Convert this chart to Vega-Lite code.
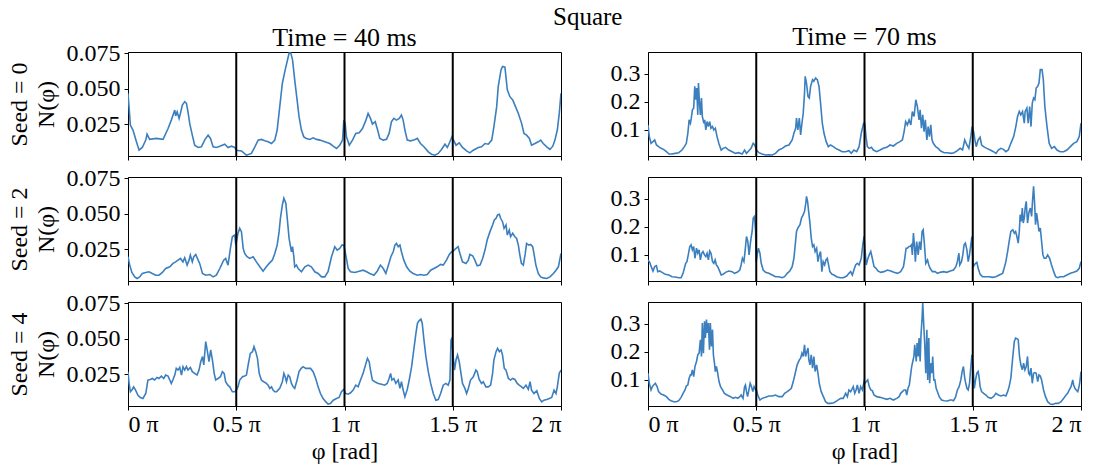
{
  "$schema": "https://vega.github.io/schema/vega-lite/v6.json",
  "autosize": {"type": "none"},
  "padding": {"left": 128, "top": 52, "right": 970, "bottom": 416},
  "background": "white",
  "title": {"text": "Square", "anchor": "start", "frame": "group", "dx": 425, "fontSize": 25, "fontWeight": "normal", "font": "Liberation Serif", "color": "#000", "offset": -6},
  "config": {
    "font": "Liberation Serif",
    "view": {"stroke": "#000", "strokeWidth": 1},
    "axis": {"labelFont": "Liberation Serif", "titleFont": "Liberation Serif", "labelFontSize": 24, "titleFontSize": 24, "labelColor": "#000", "titleColor": "#000", "tickColor": "#000", "domainColor": "#000", "grid": false, "tickSize": 4, "labelPadding": 4, "titleFontWeight": "normal", "labelOverlap": false},
    "title": {"fontWeight": "normal", "fontSize": 26, "font": "Liberation Serif", "color": "#000"}
  },
  "datasets": {
    "guides": [{"phi": 0.5}, {"phi": 1}, {"phi": 1.5}],
    "t40s0": [
      {"phi":0.000,"N":0.0467},{"phi":0.011,"N":0.0243},{"phi":0.023,"N":0.0208},{"phi":0.039,"N":0.0125},{"phi":0.051,"N":0.0066},{"phi":0.066,"N":0.0085},{"phi":0.082,"N":0.0137},{"phi":0.088,"N":0.0179},{"phi":0.100,"N":0.0142},{"phi":0.131,"N":0.0149},{"phi":0.162,"N":0.0142},{"phi":0.185,"N":0.0219},{"phi":0.200,"N":0.0278},{"phi":0.216,"N":0.0349},{"phi":0.220,"N":0.0307},{"phi":0.227,"N":0.0337},{"phi":0.236,"N":0.0290},{"phi":0.242,"N":0.0325},{"phi":0.251,"N":0.0384},{"phi":0.262,"N":0.0408},{"phi":0.270,"N":0.0396},{"phi":0.277,"N":0.0337},{"phi":0.285,"N":0.0255},{"phi":0.297,"N":0.0172},{"phi":0.308,"N":0.0101},{"phi":0.324,"N":0.0085},{"phi":0.339,"N":0.0090},{"phi":0.354,"N":0.0137},{"phi":0.370,"N":0.0172},{"phi":0.381,"N":0.0149},{"phi":0.393,"N":0.0090},{"phi":0.408,"N":0.0085},{"phi":0.424,"N":0.0094},{"phi":0.447,"N":0.0108},{"phi":0.462,"N":0.0085},{"phi":0.478,"N":0.0094},{"phi":0.493,"N":0.0085},{"phi":0.501,"N":0.0066},{"phi":0.524,"N":0.0061},{"phi":0.547,"N":0.0031},{"phi":0.570,"N":0.0043},{"phi":0.586,"N":0.0090},{"phi":0.601,"N":0.0137},{"phi":0.616,"N":0.0142},{"phi":0.632,"N":0.0132},{"phi":0.647,"N":0.0125},{"phi":0.663,"N":0.0113},{"phi":0.678,"N":0.0137},{"phi":0.689,"N":0.0208},{"phi":0.701,"N":0.0373},{"phi":0.713,"N":0.0538},{"phi":0.726,"N":0.0632},{"phi":0.737,"N":0.0703},{"phi":0.744,"N":0.0750},{"phi":0.752,"N":0.0750},{"phi":0.760,"N":0.0703},{"phi":0.770,"N":0.0561},{"phi":0.781,"N":0.0420},{"phi":0.790,"N":0.0302},{"phi":0.801,"N":0.0208},{"phi":0.812,"N":0.0160},{"phi":0.824,"N":0.0149},{"phi":0.840,"N":0.0142},{"phi":0.855,"N":0.0153},{"phi":0.871,"N":0.0142},{"phi":0.886,"N":0.0137},{"phi":0.909,"N":0.0125},{"phi":0.932,"N":0.0113},{"phi":0.948,"N":0.0094},{"phi":0.963,"N":0.0078},{"phi":0.978,"N":0.0101},{"phi":0.991,"N":0.0137},{"phi":0.997,"N":0.0278},{"phi":1.003,"N":0.0255},{"phi":1.009,"N":0.0160},{"phi":1.022,"N":0.0101},{"phi":1.037,"N":0.0137},{"phi":1.052,"N":0.0184},{"phi":1.068,"N":0.0189},{"phi":1.083,"N":0.0219},{"phi":1.099,"N":0.0278},{"phi":1.109,"N":0.0325},{"phi":1.120,"N":0.0290},{"phi":1.129,"N":0.0250},{"phi":1.142,"N":0.0267},{"phi":1.153,"N":0.0208},{"phi":1.163,"N":0.0149},{"phi":1.179,"N":0.0137},{"phi":1.194,"N":0.0142},{"phi":1.206,"N":0.0184},{"phi":1.217,"N":0.0267},{"phi":1.228,"N":0.0290},{"phi":1.240,"N":0.0278},{"phi":1.253,"N":0.0290},{"phi":1.263,"N":0.0314},{"phi":1.271,"N":0.0278},{"phi":1.279,"N":0.0208},{"phi":1.290,"N":0.0137},{"phi":1.305,"N":0.0132},{"phi":1.320,"N":0.0137},{"phi":1.336,"N":0.0149},{"phi":1.351,"N":0.0113},{"phi":1.367,"N":0.0090},{"phi":1.387,"N":0.0054},{"phi":1.402,"N":0.0038},{"phi":1.418,"N":0.0031},{"phi":1.433,"N":0.0043},{"phi":1.448,"N":0.0071},{"phi":1.464,"N":0.0108},{"phi":1.475,"N":0.0085},{"phi":1.487,"N":0.0125},{"phi":1.496,"N":0.0160},{"phi":1.502,"N":0.0142},{"phi":1.515,"N":0.0101},{"phi":1.530,"N":0.0118},{"phi":1.545,"N":0.0085},{"phi":1.564,"N":0.0061},{"phi":1.579,"N":0.0047},{"phi":1.595,"N":0.0066},{"phi":1.618,"N":0.0085},{"phi":1.633,"N":0.0090},{"phi":1.649,"N":0.0113},{"phi":1.664,"N":0.0108},{"phi":1.680,"N":0.0137},{"phi":1.690,"N":0.0231},{"phi":1.703,"N":0.0373},{"phi":1.710,"N":0.0514},{"phi":1.723,"N":0.0632},{"phi":1.730,"N":0.0656},{"phi":1.741,"N":0.0651},{"phi":1.752,"N":0.0491},{"phi":1.764,"N":0.0443},{"phi":1.777,"N":0.0420},{"phi":1.787,"N":0.0384},{"phi":1.803,"N":0.0325},{"phi":1.818,"N":0.0255},{"phi":1.829,"N":0.0184},{"phi":1.841,"N":0.0172},{"phi":1.854,"N":0.0149},{"phi":1.864,"N":0.0101},{"phi":1.880,"N":0.0113},{"phi":1.895,"N":0.0125},{"phi":1.906,"N":0.0137},{"phi":1.918,"N":0.0113},{"phi":1.934,"N":0.0090},{"phi":1.949,"N":0.0071},{"phi":1.962,"N":0.0094},{"phi":1.972,"N":0.0137},{"phi":1.983,"N":0.0208},{"phi":1.992,"N":0.0325},{"phi":2.000,"N":0.0467}
    ],
    "t40s2": [
      {"phi":0.000,"N":0.0196},{"phi":0.008,"N":0.0137},{"phi":0.018,"N":0.0085},{"phi":0.031,"N":0.0054},{"phi":0.042,"N":0.0043},{"phi":0.054,"N":0.0054},{"phi":0.066,"N":0.0078},{"phi":0.082,"N":0.0085},{"phi":0.097,"N":0.0090},{"phi":0.112,"N":0.0078},{"phi":0.128,"N":0.0066},{"phi":0.143,"N":0.0066},{"phi":0.159,"N":0.0085},{"phi":0.174,"N":0.0113},{"phi":0.193,"N":0.0125},{"phi":0.208,"N":0.0149},{"phi":0.220,"N":0.0160},{"phi":0.231,"N":0.0172},{"phi":0.242,"N":0.0184},{"phi":0.254,"N":0.0160},{"phi":0.262,"N":0.0189},{"phi":0.273,"N":0.0137},{"phi":0.282,"N":0.0172},{"phi":0.288,"N":0.0208},{"phi":0.297,"N":0.0160},{"phi":0.304,"N":0.0196},{"phi":0.313,"N":0.0212},{"phi":0.324,"N":0.0172},{"phi":0.331,"N":0.0149},{"phi":0.344,"N":0.0078},{"phi":0.359,"N":0.0066},{"phi":0.378,"N":0.0071},{"phi":0.393,"N":0.0054},{"phi":0.408,"N":0.0066},{"phi":0.424,"N":0.0113},{"phi":0.442,"N":0.0172},{"phi":0.451,"N":0.0184},{"phi":0.462,"N":0.0137},{"phi":0.473,"N":0.0255},{"phi":0.482,"N":0.0337},{"phi":0.493,"N":0.0349},{"phi":0.498,"N":0.0278},{"phi":0.508,"N":0.0361},{"phi":0.516,"N":0.0396},{"phi":0.524,"N":0.0373},{"phi":0.532,"N":0.0255},{"phi":0.539,"N":0.0219},{"phi":0.550,"N":0.0196},{"phi":0.562,"N":0.0184},{"phi":0.578,"N":0.0196},{"phi":0.593,"N":0.0160},{"phi":0.609,"N":0.0125},{"phi":0.624,"N":0.0094},{"phi":0.639,"N":0.0125},{"phi":0.652,"N":0.0149},{"phi":0.667,"N":0.0172},{"phi":0.678,"N":0.0219},{"phi":0.689,"N":0.0278},{"phi":0.698,"N":0.0373},{"phi":0.704,"N":0.0467},{"phi":0.713,"N":0.0561},{"phi":0.720,"N":0.0608},{"phi":0.729,"N":0.0573},{"phi":0.737,"N":0.0443},{"phi":0.744,"N":0.0325},{"phi":0.755,"N":0.0231},{"phi":0.760,"N":0.0267},{"phi":0.766,"N":0.0196},{"phi":0.770,"N":0.0125},{"phi":0.778,"N":0.0137},{"phi":0.786,"N":0.0113},{"phi":0.801,"N":0.0090},{"phi":0.817,"N":0.0125},{"phi":0.832,"N":0.0137},{"phi":0.847,"N":0.0125},{"phi":0.863,"N":0.0090},{"phi":0.878,"N":0.0078},{"phi":0.894,"N":0.0054},{"phi":0.909,"N":0.0054},{"phi":0.924,"N":0.0090},{"phi":0.940,"N":0.0196},{"phi":0.955,"N":0.0267},{"phi":0.966,"N":0.0243},{"phi":0.978,"N":0.0255},{"phi":0.988,"N":0.0278},{"phi":0.997,"N":0.0278},{"phi":1.006,"N":0.0208},{"phi":1.017,"N":0.0113},{"phi":1.028,"N":0.0090},{"phi":1.048,"N":0.0085},{"phi":1.068,"N":0.0094},{"phi":1.086,"N":0.0101},{"phi":1.102,"N":0.0090},{"phi":1.117,"N":0.0078},{"phi":1.136,"N":0.0066},{"phi":1.151,"N":0.0094},{"phi":1.166,"N":0.0137},{"phi":1.179,"N":0.0113},{"phi":1.191,"N":0.0078},{"phi":1.203,"N":0.0137},{"phi":1.214,"N":0.0196},{"phi":1.225,"N":0.0231},{"phi":1.233,"N":0.0278},{"phi":1.240,"N":0.0290},{"phi":1.248,"N":0.0267},{"phi":1.256,"N":0.0278},{"phi":1.263,"N":0.0231},{"phi":1.274,"N":0.0172},{"phi":1.287,"N":0.0125},{"phi":1.302,"N":0.0094},{"phi":1.317,"N":0.0078},{"phi":1.336,"N":0.0066},{"phi":1.351,"N":0.0071},{"phi":1.367,"N":0.0066},{"phi":1.382,"N":0.0071},{"phi":1.398,"N":0.0101},{"phi":1.413,"N":0.0113},{"phi":1.428,"N":0.0125},{"phi":1.444,"N":0.0142},{"phi":1.456,"N":0.0137},{"phi":1.471,"N":0.0172},{"phi":1.484,"N":0.0212},{"phi":1.495,"N":0.0231},{"phi":1.502,"N":0.0236},{"phi":1.515,"N":0.0255},{"phi":1.525,"N":0.0267},{"phi":1.533,"N":0.0219},{"phi":1.545,"N":0.0160},{"phi":1.561,"N":0.0149},{"phi":1.572,"N":0.0172},{"phi":1.579,"N":0.0212},{"phi":1.592,"N":0.0203},{"phi":1.602,"N":0.0172},{"phi":1.613,"N":0.0132},{"phi":1.626,"N":0.0137},{"phi":1.638,"N":0.0184},{"phi":1.649,"N":0.0243},{"phi":1.659,"N":0.0314},{"phi":1.672,"N":0.0373},{"phi":1.684,"N":0.0420},{"phi":1.692,"N":0.0455},{"phi":1.700,"N":0.0467},{"phi":1.707,"N":0.0491},{"phi":1.715,"N":0.0495},{"phi":1.721,"N":0.0467},{"phi":1.730,"N":0.0443},{"phi":1.737,"N":0.0396},{"phi":1.746,"N":0.0420},{"phi":1.752,"N":0.0349},{"phi":1.761,"N":0.0384},{"phi":1.767,"N":0.0337},{"phi":1.777,"N":0.0361},{"phi":1.787,"N":0.0337},{"phi":1.795,"N":0.0325},{"phi":1.803,"N":0.0278},{"phi":1.810,"N":0.0208},{"phi":1.817,"N":0.0149},{"phi":1.826,"N":0.0137},{"phi":1.835,"N":0.0219},{"phi":1.841,"N":0.0290},{"phi":1.851,"N":0.0278},{"phi":1.860,"N":0.0283},{"phi":1.869,"N":0.0267},{"phi":1.875,"N":0.0219},{"phi":1.884,"N":0.0137},{"phi":1.895,"N":0.0078},{"phi":1.906,"N":0.0054},{"phi":1.918,"N":0.0047},{"phi":1.934,"N":0.0043},{"phi":1.949,"N":0.0054},{"phi":1.965,"N":0.0078},{"phi":1.977,"N":0.0101},{"phi":1.988,"N":0.0125},{"phi":2.000,"N":0.0219}
    ],
    "t40s4": [
      {"phi":0.000,"N":0.0267},{"phi":0.005,"N":0.0184},{"phi":0.011,"N":0.0125},{"phi":0.018,"N":0.0137},{"phi":0.026,"N":0.0160},{"phi":0.035,"N":0.0137},{"phi":0.046,"N":0.0101},{"phi":0.057,"N":0.0085},{"phi":0.069,"N":0.0078},{"phi":0.082,"N":0.0113},{"phi":0.092,"N":0.0208},{"phi":0.103,"N":0.0212},{"phi":0.112,"N":0.0219},{"phi":0.123,"N":0.0208},{"phi":0.134,"N":0.0226},{"phi":0.143,"N":0.0219},{"phi":0.154,"N":0.0236},{"phi":0.165,"N":0.0219},{"phi":0.174,"N":0.0243},{"phi":0.185,"N":0.0236},{"phi":0.193,"N":0.0208},{"phi":0.200,"N":0.0184},{"phi":0.208,"N":0.0212},{"phi":0.216,"N":0.0243},{"phi":0.223,"N":0.0290},{"phi":0.231,"N":0.0278},{"phi":0.239,"N":0.0297},{"phi":0.247,"N":0.0243},{"phi":0.254,"N":0.0302},{"phi":0.262,"N":0.0278},{"phi":0.270,"N":0.0302},{"phi":0.277,"N":0.0278},{"phi":0.288,"N":0.0297},{"phi":0.297,"N":0.0267},{"phi":0.308,"N":0.0255},{"phi":0.319,"N":0.0243},{"phi":0.328,"N":0.0278},{"phi":0.336,"N":0.0337},{"phi":0.344,"N":0.0373},{"phi":0.350,"N":0.0314},{"phi":0.359,"N":0.0479},{"phi":0.367,"N":0.0408},{"phi":0.374,"N":0.0337},{"phi":0.382,"N":0.0420},{"phi":0.390,"N":0.0349},{"phi":0.398,"N":0.0255},{"phi":0.405,"N":0.0208},{"phi":0.416,"N":0.0219},{"phi":0.427,"N":0.0231},{"phi":0.436,"N":0.0267},{"phi":0.444,"N":0.0255},{"phi":0.451,"N":0.0196},{"phi":0.461,"N":0.0172},{"phi":0.470,"N":0.0160},{"phi":0.482,"N":0.0125},{"phi":0.493,"N":0.0125},{"phi":0.501,"N":0.0137},{"phi":0.508,"N":0.0160},{"phi":0.516,"N":0.0208},{"phi":0.529,"N":0.0231},{"phi":0.539,"N":0.0236},{"phi":0.547,"N":0.0243},{"phi":0.555,"N":0.0314},{"phi":0.565,"N":0.0396},{"phi":0.575,"N":0.0408},{"phi":0.582,"N":0.0443},{"phi":0.590,"N":0.0408},{"phi":0.598,"N":0.0361},{"phi":0.606,"N":0.0255},{"phi":0.616,"N":0.0208},{"phi":0.627,"N":0.0196},{"phi":0.639,"N":0.0184},{"phi":0.647,"N":0.0172},{"phi":0.655,"N":0.0149},{"phi":0.663,"N":0.0160},{"phi":0.670,"N":0.0137},{"phi":0.678,"N":0.0125},{"phi":0.686,"N":0.0125},{"phi":0.693,"N":0.0137},{"phi":0.701,"N":0.0149},{"phi":0.713,"N":0.0196},{"phi":0.720,"N":0.0255},{"phi":0.726,"N":0.0231},{"phi":0.732,"N":0.0196},{"phi":0.740,"N":0.0243},{"phi":0.747,"N":0.0231},{"phi":0.755,"N":0.0184},{"phi":0.763,"N":0.0160},{"phi":0.770,"N":0.0149},{"phi":0.781,"N":0.0208},{"phi":0.790,"N":0.0267},{"phi":0.800,"N":0.0290},{"phi":0.809,"N":0.0302},{"phi":0.821,"N":0.0290},{"phi":0.832,"N":0.0290},{"phi":0.843,"N":0.0290},{"phi":0.855,"N":0.0267},{"phi":0.867,"N":0.0219},{"phi":0.878,"N":0.0160},{"phi":0.889,"N":0.0113},{"phi":0.901,"N":0.0078},{"phi":0.914,"N":0.0054},{"phi":0.924,"N":0.0038},{"phi":0.935,"N":0.0043},{"phi":0.948,"N":0.0066},{"phi":0.963,"N":0.0078},{"phi":0.975,"N":0.0085},{"phi":0.986,"N":0.0125},{"phi":0.997,"N":0.0142},{"phi":1.006,"N":0.0113},{"phi":1.017,"N":0.0108},{"phi":1.028,"N":0.0118},{"phi":1.040,"N":0.0137},{"phi":1.052,"N":0.0172},{"phi":1.063,"N":0.0160},{"phi":1.074,"N":0.0208},{"phi":1.086,"N":0.0255},{"phi":1.097,"N":0.0314},{"phi":1.106,"N":0.0361},{"phi":1.114,"N":0.0337},{"phi":1.120,"N":0.0278},{"phi":1.129,"N":0.0208},{"phi":1.140,"N":0.0196},{"phi":1.156,"N":0.0184},{"phi":1.171,"N":0.0179},{"phi":1.186,"N":0.0172},{"phi":1.197,"N":0.0184},{"phi":1.206,"N":0.0219},{"phi":1.213,"N":0.0255},{"phi":1.219,"N":0.0208},{"phi":1.228,"N":0.0219},{"phi":1.237,"N":0.0184},{"phi":1.248,"N":0.0208},{"phi":1.256,"N":0.0149},{"phi":1.263,"N":0.0196},{"phi":1.271,"N":0.0137},{"phi":1.279,"N":0.0090},{"phi":1.290,"N":0.0142},{"phi":1.299,"N":0.0208},{"phi":1.310,"N":0.0302},{"phi":1.320,"N":0.0420},{"phi":1.330,"N":0.0538},{"phi":1.337,"N":0.0608},{"phi":1.345,"N":0.0627},{"phi":1.353,"N":0.0637},{"phi":1.359,"N":0.0608},{"phi":1.367,"N":0.0491},{"phi":1.376,"N":0.0373},{"phi":1.387,"N":0.0267},{"phi":1.398,"N":0.0184},{"phi":1.410,"N":0.0113},{"phi":1.422,"N":0.0066},{"phi":1.433,"N":0.0071},{"phi":1.444,"N":0.0113},{"phi":1.456,"N":0.0172},{"phi":1.468,"N":0.0184},{"phi":1.479,"N":0.0172},{"phi":1.487,"N":0.0208},{"phi":1.492,"N":0.0491},{"phi":1.496,"N":0.0502},{"phi":1.502,"N":0.0373},{"phi":1.508,"N":0.0278},{"phi":1.515,"N":0.0349},{"phi":1.522,"N":0.0384},{"phi":1.530,"N":0.0337},{"phi":1.538,"N":0.0255},{"phi":1.545,"N":0.0184},{"phi":1.556,"N":0.0149},{"phi":1.564,"N":0.0113},{"phi":1.572,"N":0.0149},{"phi":1.582,"N":0.0208},{"phi":1.595,"N":0.0231},{"phi":1.607,"N":0.0278},{"phi":1.613,"N":0.0267},{"phi":1.622,"N":0.0212},{"phi":1.633,"N":0.0184},{"phi":1.641,"N":0.0196},{"phi":1.653,"N":0.0160},{"phi":1.664,"N":0.0160},{"phi":1.675,"N":0.0172},{"phi":1.684,"N":0.0255},{"phi":1.690,"N":0.0349},{"phi":1.700,"N":0.0408},{"phi":1.707,"N":0.0432},{"phi":1.715,"N":0.0408},{"phi":1.723,"N":0.0420},{"phi":1.730,"N":0.0384},{"phi":1.738,"N":0.0290},{"phi":1.746,"N":0.0278},{"phi":1.757,"N":0.0219},{"phi":1.767,"N":0.0208},{"phi":1.777,"N":0.0219},{"phi":1.787,"N":0.0212},{"phi":1.798,"N":0.0184},{"phi":1.807,"N":0.0172},{"phi":1.818,"N":0.0160},{"phi":1.826,"N":0.0149},{"phi":1.838,"N":0.0172},{"phi":1.849,"N":0.0142},{"phi":1.857,"N":0.0196},{"phi":1.864,"N":0.0137},{"phi":1.875,"N":0.0113},{"phi":1.888,"N":0.0132},{"phi":1.900,"N":0.0078},{"phi":1.911,"N":0.0054},{"phi":1.921,"N":0.0066},{"phi":1.934,"N":0.0071},{"phi":1.946,"N":0.0078},{"phi":1.957,"N":0.0085},{"phi":1.968,"N":0.0137},{"phi":1.977,"N":0.0113},{"phi":1.983,"N":0.0160},{"phi":1.992,"N":0.0255},{"phi":2.000,"N":0.0278}
    ],
    "t70s0": [
      {"phi":0.000,"N":0.1169},{"phi":0.006,"N":0.0747},{"phi":0.014,"N":0.0506},{"phi":0.023,"N":0.0566},{"phi":0.031,"N":0.0627},{"phi":0.039,"N":0.0446},{"phi":0.049,"N":0.0386},{"phi":0.060,"N":0.0325},{"phi":0.072,"N":0.0289},{"phi":0.085,"N":0.0205},{"phi":0.097,"N":0.0120},{"phi":0.111,"N":0.0120},{"phi":0.126,"N":0.0145},{"phi":0.142,"N":0.0169},{"phi":0.157,"N":0.0265},{"phi":0.168,"N":0.0386},{"phi":0.177,"N":0.0506},{"phi":0.184,"N":0.0867},{"phi":0.190,"N":0.1349},{"phi":0.196,"N":0.1229},{"phi":0.200,"N":0.1410},{"phi":0.205,"N":0.1711},{"phi":0.211,"N":0.1771},{"phi":0.216,"N":0.2554},{"phi":0.221,"N":0.2072},{"phi":0.225,"N":0.2494},{"phi":0.230,"N":0.1530},{"phi":0.233,"N":0.2675},{"phi":0.237,"N":0.2072},{"phi":0.242,"N":0.1530},{"phi":0.247,"N":0.2133},{"phi":0.251,"N":0.1470},{"phi":0.258,"N":0.1229},{"phi":0.262,"N":0.1349},{"phi":0.267,"N":0.0988},{"phi":0.273,"N":0.1289},{"phi":0.279,"N":0.1108},{"phi":0.285,"N":0.1289},{"phi":0.291,"N":0.1048},{"phi":0.298,"N":0.1108},{"phi":0.304,"N":0.0988},{"phi":0.311,"N":0.1048},{"phi":0.319,"N":0.0747},{"phi":0.327,"N":0.0506},{"phi":0.338,"N":0.0265},{"phi":0.347,"N":0.0325},{"phi":0.358,"N":0.0361},{"phi":0.373,"N":0.0265},{"phi":0.389,"N":0.0205},{"phi":0.404,"N":0.0145},{"phi":0.419,"N":0.0169},{"phi":0.435,"N":0.0120},{"phi":0.446,"N":0.0265},{"phi":0.455,"N":0.0145},{"phi":0.466,"N":0.0241},{"phi":0.476,"N":0.0325},{"phi":0.486,"N":0.0506},{"phi":0.493,"N":0.0446},{"phi":0.501,"N":0.0265},{"phi":0.512,"N":0.0169},{"phi":0.527,"N":0.0120},{"phi":0.543,"N":0.0084},{"phi":0.558,"N":0.0096},{"phi":0.574,"N":0.0084},{"phi":0.589,"N":0.0145},{"phi":0.604,"N":0.0265},{"phi":0.620,"N":0.0325},{"phi":0.635,"N":0.0410},{"phi":0.651,"N":0.0446},{"phi":0.666,"N":0.0627},{"phi":0.674,"N":0.0867},{"phi":0.682,"N":0.1048},{"phi":0.686,"N":0.1410},{"phi":0.692,"N":0.0988},{"phi":0.699,"N":0.1410},{"phi":0.705,"N":0.0807},{"phi":0.711,"N":0.1229},{"phi":0.717,"N":0.1590},{"phi":0.723,"N":0.2313},{"phi":0.726,"N":0.2916},{"phi":0.732,"N":0.2675},{"phi":0.739,"N":0.2193},{"phi":0.745,"N":0.2133},{"phi":0.751,"N":0.2554},{"phi":0.760,"N":0.2795},{"phi":0.766,"N":0.2735},{"phi":0.774,"N":0.2855},{"phi":0.782,"N":0.2795},{"phi":0.790,"N":0.2554},{"phi":0.797,"N":0.1952},{"phi":0.805,"N":0.1229},{"phi":0.813,"N":0.0867},{"phi":0.823,"N":0.0566},{"phi":0.833,"N":0.0386},{"phi":0.843,"N":0.0446},{"phi":0.856,"N":0.0386},{"phi":0.867,"N":0.0325},{"phi":0.882,"N":0.0265},{"phi":0.897,"N":0.0205},{"phi":0.913,"N":0.0205},{"phi":0.928,"N":0.0241},{"phi":0.939,"N":0.0145},{"phi":0.951,"N":0.0265},{"phi":0.964,"N":0.0205},{"phi":0.975,"N":0.0386},{"phi":0.985,"N":0.0867},{"phi":0.996,"N":0.1229},{"phi":1.001,"N":0.1229},{"phi":1.007,"N":0.0747},{"phi":1.013,"N":0.0386},{"phi":1.022,"N":0.0325},{"phi":1.032,"N":0.0361},{"phi":1.041,"N":0.0265},{"phi":1.056,"N":0.0205},{"phi":1.072,"N":0.0265},{"phi":1.087,"N":0.0325},{"phi":1.103,"N":0.0361},{"phi":1.118,"N":0.0446},{"phi":1.133,"N":0.0410},{"phi":1.149,"N":0.0506},{"phi":1.164,"N":0.0566},{"phi":1.175,"N":0.0627},{"phi":1.183,"N":0.0928},{"phi":1.190,"N":0.1289},{"phi":1.198,"N":0.1169},{"phi":1.206,"N":0.1349},{"phi":1.214,"N":0.1169},{"phi":1.221,"N":0.1651},{"phi":1.229,"N":0.1470},{"phi":1.237,"N":0.2072},{"phi":1.244,"N":0.1831},{"phi":1.252,"N":0.1349},{"phi":1.257,"N":0.1711},{"phi":1.263,"N":0.1048},{"phi":1.269,"N":0.1530},{"phi":1.275,"N":0.0928},{"phi":1.281,"N":0.1349},{"phi":1.288,"N":0.0627},{"phi":1.294,"N":0.1108},{"phi":1.300,"N":0.0747},{"phi":1.306,"N":0.1169},{"phi":1.312,"N":0.0627},{"phi":1.318,"N":0.0506},{"phi":1.329,"N":0.0386},{"phi":1.340,"N":0.0325},{"phi":1.352,"N":0.0229},{"phi":1.368,"N":0.0169},{"phi":1.383,"N":0.0169},{"phi":1.399,"N":0.0145},{"phi":1.414,"N":0.0169},{"phi":1.429,"N":0.0241},{"phi":1.442,"N":0.0325},{"phi":1.453,"N":0.0265},{"phi":1.463,"N":0.0627},{"phi":1.473,"N":0.0446},{"phi":1.482,"N":0.0325},{"phi":1.491,"N":0.0747},{"phi":1.497,"N":0.1108},{"phi":1.504,"N":0.0928},{"phi":1.510,"N":0.0627},{"phi":1.516,"N":0.0386},{"phi":1.525,"N":0.0627},{"phi":1.534,"N":0.0723},{"phi":1.541,"N":0.0446},{"phi":1.550,"N":0.0386},{"phi":1.565,"N":0.0325},{"phi":1.581,"N":0.0265},{"phi":1.596,"N":0.0205},{"phi":1.607,"N":0.0145},{"phi":1.618,"N":0.0265},{"phi":1.630,"N":0.0325},{"phi":1.642,"N":0.0289},{"phi":1.653,"N":0.0205},{"phi":1.664,"N":0.0265},{"phi":1.676,"N":0.0506},{"phi":1.689,"N":0.0747},{"phi":1.699,"N":0.1108},{"phi":1.707,"N":0.1470},{"phi":1.715,"N":0.1651},{"phi":1.722,"N":0.1530},{"phi":1.730,"N":0.1651},{"phi":1.738,"N":0.1229},{"phi":1.742,"N":0.1651},{"phi":1.750,"N":0.1771},{"phi":1.756,"N":0.1229},{"phi":1.763,"N":0.1831},{"phi":1.769,"N":0.1108},{"phi":1.775,"N":0.1952},{"phi":1.781,"N":0.2133},{"phi":1.787,"N":0.2072},{"phi":1.793,"N":0.2494},{"phi":1.800,"N":0.2554},{"phi":1.806,"N":0.2675},{"phi":1.812,"N":0.3157},{"phi":1.820,"N":0.3157},{"phi":1.826,"N":0.2795},{"phi":1.833,"N":0.1831},{"phi":1.843,"N":0.1108},{"phi":1.853,"N":0.0506},{"phi":1.864,"N":0.0325},{"phi":1.877,"N":0.0386},{"phi":1.889,"N":0.0265},{"phi":1.904,"N":0.0205},{"phi":1.920,"N":0.0205},{"phi":1.935,"N":0.0265},{"phi":1.951,"N":0.0386},{"phi":1.966,"N":0.0506},{"phi":1.981,"N":0.0566},{"phi":1.992,"N":0.0747},{"phi":2.000,"N":0.1229}
    ],
    "t70s2": [
      {"phi":0.000,"N":0.0807},{"phi":0.008,"N":0.0723},{"phi":0.015,"N":0.0566},{"phi":0.023,"N":0.0410},{"phi":0.031,"N":0.0566},{"phi":0.039,"N":0.0602},{"phi":0.045,"N":0.0386},{"phi":0.054,"N":0.0410},{"phi":0.065,"N":0.0361},{"phi":0.080,"N":0.0289},{"phi":0.096,"N":0.0265},{"phi":0.111,"N":0.0205},{"phi":0.126,"N":0.0193},{"phi":0.142,"N":0.0169},{"phi":0.153,"N":0.0169},{"phi":0.162,"N":0.0325},{"phi":0.168,"N":0.0506},{"phi":0.174,"N":0.0687},{"phi":0.180,"N":0.0747},{"phi":0.186,"N":0.0988},{"phi":0.193,"N":0.1289},{"phi":0.199,"N":0.1349},{"phi":0.205,"N":0.1169},{"phi":0.211,"N":0.1289},{"phi":0.217,"N":0.0867},{"phi":0.224,"N":0.1229},{"phi":0.230,"N":0.1048},{"phi":0.236,"N":0.1169},{"phi":0.242,"N":0.0807},{"phi":0.248,"N":0.1048},{"phi":0.254,"N":0.1108},{"phi":0.261,"N":0.0988},{"phi":0.267,"N":0.0928},{"phi":0.273,"N":0.1048},{"phi":0.279,"N":0.0807},{"phi":0.285,"N":0.1133},{"phi":0.291,"N":0.1048},{"phi":0.298,"N":0.0747},{"phi":0.304,"N":0.0687},{"phi":0.310,"N":0.0807},{"phi":0.316,"N":0.0627},{"phi":0.322,"N":0.0566},{"phi":0.332,"N":0.0386},{"phi":0.338,"N":0.0265},{"phi":0.347,"N":0.0289},{"phi":0.358,"N":0.0361},{"phi":0.373,"N":0.0410},{"phi":0.389,"N":0.0386},{"phi":0.399,"N":0.0325},{"phi":0.412,"N":0.0361},{"phi":0.424,"N":0.0446},{"phi":0.430,"N":0.0627},{"phi":0.436,"N":0.0867},{"phi":0.443,"N":0.0747},{"phi":0.449,"N":0.1169},{"phi":0.455,"N":0.1651},{"phi":0.461,"N":0.1470},{"phi":0.467,"N":0.0988},{"phi":0.472,"N":0.1349},{"phi":0.476,"N":0.1590},{"phi":0.481,"N":0.1831},{"phi":0.486,"N":0.2313},{"phi":0.492,"N":0.2373},{"phi":0.497,"N":0.1831},{"phi":0.500,"N":0.0747},{"phi":0.504,"N":0.0988},{"phi":0.510,"N":0.1229},{"phi":0.517,"N":0.1048},{"phi":0.523,"N":0.0687},{"phi":0.532,"N":0.0446},{"phi":0.543,"N":0.0361},{"phi":0.558,"N":0.0325},{"phi":0.574,"N":0.0265},{"phi":0.589,"N":0.0205},{"phi":0.604,"N":0.0205},{"phi":0.620,"N":0.0169},{"phi":0.631,"N":0.0205},{"phi":0.643,"N":0.0325},{"phi":0.655,"N":0.0410},{"phi":0.666,"N":0.0566},{"phi":0.674,"N":0.0867},{"phi":0.680,"N":0.1349},{"phi":0.686,"N":0.1831},{"phi":0.692,"N":0.1952},{"phi":0.702,"N":0.2072},{"phi":0.709,"N":0.2313},{"phi":0.717,"N":0.2434},{"phi":0.723,"N":0.2554},{"phi":0.729,"N":0.2855},{"phi":0.732,"N":0.3096},{"phi":0.737,"N":0.2916},{"phi":0.742,"N":0.2554},{"phi":0.748,"N":0.2133},{"phi":0.754,"N":0.1590},{"phi":0.760,"N":0.1289},{"phi":0.766,"N":0.1349},{"phi":0.772,"N":0.1108},{"phi":0.779,"N":0.1229},{"phi":0.785,"N":0.0747},{"phi":0.791,"N":0.0988},{"phi":0.797,"N":0.1108},{"phi":0.803,"N":0.0386},{"phi":0.809,"N":0.0747},{"phi":0.816,"N":0.0627},{"phi":0.822,"N":0.0807},{"phi":0.828,"N":0.0867},{"phi":0.834,"N":0.0627},{"phi":0.840,"N":0.0386},{"phi":0.850,"N":0.0289},{"phi":0.859,"N":0.0265},{"phi":0.871,"N":0.0205},{"phi":0.887,"N":0.0169},{"phi":0.902,"N":0.0169},{"phi":0.918,"N":0.0229},{"phi":0.928,"N":0.0325},{"phi":0.936,"N":0.0386},{"phi":0.944,"N":0.0265},{"phi":0.951,"N":0.0446},{"phi":0.959,"N":0.0627},{"phi":0.967,"N":0.0687},{"phi":0.975,"N":0.0627},{"phi":0.985,"N":0.0867},{"phi":0.992,"N":0.1349},{"phi":0.998,"N":0.1651},{"phi":1.002,"N":0.1229},{"phi":1.008,"N":0.0627},{"phi":1.016,"N":0.0867},{"phi":1.022,"N":0.0988},{"phi":1.029,"N":0.1108},{"phi":1.036,"N":0.0867},{"phi":1.044,"N":0.0566},{"phi":1.053,"N":0.0506},{"phi":1.062,"N":0.0410},{"phi":1.075,"N":0.0361},{"phi":1.090,"N":0.0386},{"phi":1.106,"N":0.0446},{"phi":1.121,"N":0.0410},{"phi":1.136,"N":0.0361},{"phi":1.152,"N":0.0325},{"phi":1.167,"N":0.0386},{"phi":1.180,"N":0.0566},{"phi":1.186,"N":0.0867},{"phi":1.192,"N":0.1229},{"phi":1.198,"N":0.1229},{"phi":1.205,"N":0.1289},{"phi":1.211,"N":0.1289},{"phi":1.217,"N":0.1349},{"phi":1.221,"N":0.0988},{"phi":1.226,"N":0.1771},{"phi":1.231,"N":0.1289},{"phi":1.235,"N":0.0747},{"phi":1.241,"N":0.1470},{"phi":1.248,"N":0.0988},{"phi":1.254,"N":0.1470},{"phi":1.260,"N":0.1169},{"phi":1.266,"N":0.1831},{"phi":1.271,"N":0.1892},{"phi":1.277,"N":0.1349},{"phi":1.283,"N":0.0687},{"phi":1.291,"N":0.0807},{"phi":1.297,"N":0.0627},{"phi":1.303,"N":0.0506},{"phi":1.314,"N":0.0386},{"phi":1.326,"N":0.0386},{"phi":1.337,"N":0.0325},{"phi":1.349,"N":0.0361},{"phi":1.365,"N":0.0386},{"phi":1.380,"N":0.0361},{"phi":1.396,"N":0.0410},{"phi":1.411,"N":0.0446},{"phi":1.422,"N":0.0566},{"phi":1.429,"N":0.0747},{"phi":1.436,"N":0.1048},{"phi":1.440,"N":0.0627},{"phi":1.448,"N":0.0747},{"phi":1.454,"N":0.0988},{"phi":1.460,"N":0.1349},{"phi":1.466,"N":0.1410},{"phi":1.473,"N":0.1169},{"phi":1.479,"N":0.0747},{"phi":1.485,"N":0.0988},{"phi":1.491,"N":0.1349},{"phi":1.496,"N":0.1651},{"phi":1.502,"N":0.0566},{"phi":1.507,"N":0.0627},{"phi":1.513,"N":0.0687},{"phi":1.519,"N":0.0723},{"phi":1.525,"N":0.0506},{"phi":1.534,"N":0.0289},{"phi":1.545,"N":0.0205},{"phi":1.561,"N":0.0205},{"phi":1.576,"N":0.0205},{"phi":1.591,"N":0.0181},{"phi":1.607,"N":0.0205},{"phi":1.622,"N":0.0265},{"phi":1.638,"N":0.0325},{"phi":1.645,"N":0.0506},{"phi":1.653,"N":0.0747},{"phi":1.661,"N":0.1108},{"phi":1.668,"N":0.1470},{"phi":1.676,"N":0.1831},{"phi":1.685,"N":0.1892},{"phi":1.692,"N":0.1771},{"phi":1.698,"N":0.1831},{"phi":1.704,"N":0.1651},{"phi":1.710,"N":0.1410},{"phi":1.715,"N":0.1831},{"phi":1.719,"N":0.2434},{"phi":1.724,"N":0.2193},{"phi":1.729,"N":0.2675},{"phi":1.733,"N":0.2133},{"phi":1.738,"N":0.2313},{"phi":1.742,"N":0.2675},{"phi":1.747,"N":0.2916},{"phi":1.753,"N":0.2133},{"phi":1.759,"N":0.2494},{"phi":1.766,"N":0.2675},{"phi":1.772,"N":0.2373},{"phi":1.776,"N":0.2916},{"phi":1.781,"N":0.3458},{"phi":1.786,"N":0.2795},{"phi":1.790,"N":0.2072},{"phi":1.795,"N":0.2494},{"phi":1.800,"N":0.2193},{"phi":1.806,"N":0.1831},{"phi":1.812,"N":0.1952},{"phi":1.818,"N":0.1470},{"phi":1.824,"N":0.0988},{"phi":1.830,"N":0.0867},{"phi":1.838,"N":0.0867},{"phi":1.846,"N":0.0988},{"phi":1.855,"N":0.0867},{"phi":1.864,"N":0.0627},{"phi":1.874,"N":0.0386},{"phi":1.883,"N":0.0205},{"phi":1.892,"N":0.0169},{"phi":1.904,"N":0.0205},{"phi":1.920,"N":0.0205},{"phi":1.935,"N":0.0265},{"phi":1.951,"N":0.0325},{"phi":1.966,"N":0.0361},{"phi":1.981,"N":0.0410},{"phi":1.992,"N":0.0506},{"phi":2.000,"N":0.0747}
    ],
    "t70s4": [
      {"phi":0.000,"N":0.1229},{"phi":0.006,"N":0.0867},{"phi":0.014,"N":0.0627},{"phi":0.020,"N":0.0747},{"phi":0.026,"N":0.0807},{"phi":0.034,"N":0.0867},{"phi":0.042,"N":0.0747},{"phi":0.049,"N":0.0566},{"phi":0.060,"N":0.0482},{"phi":0.072,"N":0.0446},{"phi":0.085,"N":0.0386},{"phi":0.096,"N":0.0289},{"phi":0.106,"N":0.0241},{"phi":0.119,"N":0.0205},{"phi":0.131,"N":0.0205},{"phi":0.142,"N":0.0241},{"phi":0.153,"N":0.0361},{"phi":0.162,"N":0.0506},{"phi":0.171,"N":0.0627},{"phi":0.177,"N":0.0771},{"phi":0.184,"N":0.0807},{"phi":0.190,"N":0.1048},{"phi":0.196,"N":0.1169},{"phi":0.200,"N":0.1169},{"phi":0.205,"N":0.1349},{"phi":0.211,"N":0.1108},{"phi":0.217,"N":0.1470},{"phi":0.224,"N":0.1651},{"phi":0.230,"N":0.1892},{"phi":0.236,"N":0.1952},{"phi":0.242,"N":0.2434},{"phi":0.247,"N":0.1831},{"phi":0.251,"N":0.3036},{"phi":0.256,"N":0.1952},{"phi":0.261,"N":0.3096},{"phi":0.265,"N":0.2494},{"phi":0.270,"N":0.3157},{"phi":0.274,"N":0.2675},{"phi":0.279,"N":0.3036},{"phi":0.284,"N":0.2072},{"phi":0.288,"N":0.3036},{"phi":0.293,"N":0.2193},{"phi":0.298,"N":0.2795},{"phi":0.302,"N":0.1892},{"phi":0.307,"N":0.1590},{"phi":0.311,"N":0.1289},{"phi":0.316,"N":0.1470},{"phi":0.322,"N":0.1229},{"phi":0.328,"N":0.0928},{"phi":0.335,"N":0.0747},{"phi":0.344,"N":0.0627},{"phi":0.353,"N":0.0506},{"phi":0.365,"N":0.0446},{"phi":0.381,"N":0.0386},{"phi":0.393,"N":0.0325},{"phi":0.404,"N":0.0361},{"phi":0.415,"N":0.0325},{"phi":0.424,"N":0.0386},{"phi":0.430,"N":0.0446},{"phi":0.439,"N":0.0325},{"phi":0.446,"N":0.0747},{"phi":0.450,"N":0.0807},{"phi":0.455,"N":0.0566},{"phi":0.460,"N":0.0386},{"phi":0.466,"N":0.0627},{"phi":0.472,"N":0.0867},{"phi":0.478,"N":0.0747},{"phi":0.484,"N":0.0566},{"phi":0.490,"N":0.0747},{"phi":0.497,"N":0.0627},{"phi":0.501,"N":0.0627},{"phi":0.507,"N":0.0446},{"phi":0.517,"N":0.0265},{"phi":0.527,"N":0.0325},{"phi":0.543,"N":0.0361},{"phi":0.558,"N":0.0410},{"phi":0.574,"N":0.0410},{"phi":0.589,"N":0.0446},{"phi":0.604,"N":0.0386},{"phi":0.620,"N":0.0386},{"phi":0.631,"N":0.0506},{"phi":0.643,"N":0.0566},{"phi":0.654,"N":0.0627},{"phi":0.662,"N":0.0687},{"phi":0.671,"N":0.0928},{"phi":0.680,"N":0.1229},{"phi":0.689,"N":0.1530},{"phi":0.699,"N":0.1711},{"phi":0.705,"N":0.1771},{"phi":0.711,"N":0.1952},{"phi":0.717,"N":0.1831},{"phi":0.723,"N":0.2253},{"phi":0.728,"N":0.1831},{"phi":0.732,"N":0.1952},{"phi":0.739,"N":0.2133},{"phi":0.743,"N":0.1711},{"phi":0.748,"N":0.1530},{"phi":0.754,"N":0.1892},{"phi":0.760,"N":0.1410},{"phi":0.766,"N":0.1831},{"phi":0.772,"N":0.1289},{"phi":0.779,"N":0.1530},{"phi":0.785,"N":0.1229},{"phi":0.791,"N":0.0867},{"phi":0.800,"N":0.0566},{"phi":0.810,"N":0.0386},{"phi":0.820,"N":0.0205},{"phi":0.831,"N":0.0145},{"phi":0.843,"N":0.0145},{"phi":0.859,"N":0.0169},{"phi":0.874,"N":0.0241},{"phi":0.890,"N":0.0325},{"phi":0.902,"N":0.0325},{"phi":0.913,"N":0.0506},{"phi":0.921,"N":0.0386},{"phi":0.928,"N":0.0627},{"phi":0.936,"N":0.0566},{"phi":0.944,"N":0.0687},{"phi":0.948,"N":0.0747},{"phi":0.955,"N":0.0506},{"phi":0.961,"N":0.0627},{"phi":0.967,"N":0.0807},{"phi":0.975,"N":0.0506},{"phi":0.982,"N":0.0747},{"phi":0.990,"N":0.0627},{"phi":0.998,"N":0.0928},{"phi":1.002,"N":0.0867},{"phi":1.008,"N":0.0928},{"phi":1.015,"N":0.0988},{"phi":1.022,"N":0.0747},{"phi":1.029,"N":0.0627},{"phi":1.036,"N":0.0602},{"phi":1.044,"N":0.0446},{"phi":1.056,"N":0.0386},{"phi":1.072,"N":0.0361},{"phi":1.087,"N":0.0325},{"phi":1.103,"N":0.0289},{"phi":1.118,"N":0.0325},{"phi":1.133,"N":0.0265},{"phi":1.149,"N":0.0325},{"phi":1.160,"N":0.0386},{"phi":1.167,"N":0.0506},{"phi":1.175,"N":0.0566},{"phi":1.183,"N":0.0627},{"phi":1.190,"N":0.0627},{"phi":1.195,"N":0.0446},{"phi":1.201,"N":0.0687},{"phi":1.207,"N":0.0807},{"phi":1.214,"N":0.1229},{"phi":1.218,"N":0.1470},{"phi":1.223,"N":0.1651},{"phi":1.228,"N":0.1831},{"phi":1.232,"N":0.2253},{"phi":1.239,"N":0.1651},{"phi":1.243,"N":0.2313},{"phi":1.248,"N":0.1831},{"phi":1.252,"N":0.2494},{"phi":1.257,"N":0.1651},{"phi":1.261,"N":0.2614},{"phi":1.266,"N":0.3217},{"phi":1.269,"N":0.3759},{"phi":1.274,"N":0.2916},{"phi":1.278,"N":0.2313},{"phi":1.283,"N":0.1229},{"phi":1.288,"N":0.2795},{"phi":1.292,"N":0.0988},{"phi":1.297,"N":0.2494},{"phi":1.301,"N":0.0867},{"phi":1.306,"N":0.1590},{"phi":1.311,"N":0.1229},{"phi":1.315,"N":0.1831},{"phi":1.320,"N":0.0988},{"phi":1.325,"N":0.0988},{"phi":1.331,"N":0.0687},{"phi":1.337,"N":0.0566},{"phi":1.345,"N":0.0386},{"phi":1.356,"N":0.0265},{"phi":1.368,"N":0.0241},{"phi":1.383,"N":0.0229},{"phi":1.396,"N":0.0265},{"phi":1.403,"N":0.0265},{"phi":1.411,"N":0.0241},{"phi":1.420,"N":0.0361},{"phi":1.429,"N":0.0627},{"phi":1.437,"N":0.0747},{"phi":1.445,"N":0.0988},{"phi":1.451,"N":0.1289},{"phi":1.457,"N":0.1470},{"phi":1.462,"N":0.1108},{"phi":1.466,"N":0.0928},{"phi":1.473,"N":0.0687},{"phi":1.479,"N":0.0627},{"phi":1.485,"N":0.0867},{"phi":1.490,"N":0.1349},{"phi":1.496,"N":0.1892},{"phi":1.502,"N":0.1410},{"phi":1.507,"N":0.0687},{"phi":1.513,"N":0.0988},{"phi":1.519,"N":0.1229},{"phi":1.525,"N":0.1289},{"phi":1.530,"N":0.1048},{"phi":1.534,"N":0.0747},{"phi":1.541,"N":0.0566},{"phi":1.550,"N":0.0506},{"phi":1.561,"N":0.0446},{"phi":1.571,"N":0.0361},{"phi":1.584,"N":0.0325},{"phi":1.596,"N":0.0386},{"phi":1.607,"N":0.0506},{"phi":1.618,"N":0.0446},{"phi":1.630,"N":0.0410},{"phi":1.642,"N":0.0446},{"phi":1.653,"N":0.0410},{"phi":1.661,"N":0.0566},{"phi":1.668,"N":0.0747},{"phi":1.676,"N":0.1048},{"phi":1.685,"N":0.1831},{"phi":1.692,"N":0.2373},{"phi":1.698,"N":0.2494},{"phi":1.704,"N":0.2470},{"phi":1.710,"N":0.2434},{"phi":1.716,"N":0.1831},{"phi":1.722,"N":0.1530},{"phi":1.729,"N":0.1349},{"phi":1.735,"N":0.1590},{"phi":1.741,"N":0.1349},{"phi":1.747,"N":0.1470},{"phi":1.753,"N":0.1831},{"phi":1.758,"N":0.1229},{"phi":1.763,"N":0.1169},{"phi":1.769,"N":0.1410},{"phi":1.775,"N":0.0867},{"phi":1.781,"N":0.1229},{"phi":1.787,"N":0.1253},{"phi":1.793,"N":0.1229},{"phi":1.800,"N":0.0928},{"phi":1.806,"N":0.1169},{"phi":1.812,"N":0.1133},{"phi":1.818,"N":0.0988},{"phi":1.827,"N":0.0627},{"phi":1.836,"N":0.0386},{"phi":1.846,"N":0.0205},{"phi":1.858,"N":0.0120},{"phi":1.870,"N":0.0108},{"phi":1.883,"N":0.0145},{"phi":1.895,"N":0.0145},{"phi":1.908,"N":0.0205},{"phi":1.920,"N":0.0325},{"phi":1.931,"N":0.0446},{"phi":1.938,"N":0.0506},{"phi":1.946,"N":0.0627},{"phi":1.954,"N":0.0747},{"phi":1.962,"N":0.0988},{"phi":1.966,"N":0.0807},{"phi":1.972,"N":0.0687},{"phi":1.978,"N":0.0627},{"phi":1.985,"N":0.0566},{"phi":1.991,"N":0.0747},{"phi":1.995,"N":0.0928},{"phi":2.000,"N":0.1289}
    ]
  },
  "columns": 2,
  "bounds": "flush",
  "spacing": {"row": 21, "column": 87},
  "concat": [
    {
      "title": {"text": "Time = 40 ms", "anchor": "middle", "frame": "group", "offset": -10},
      "width": 433, "height": 104,
      "layer": [
        {"data": {"name": "t40s0"}, "mark": {"type": "line", "color": "#3b7fbf", "strokeWidth": 1.6, "clip": true},
         "encoding": {
           "x": {"field": "phi", "type": "quantitative", "scale": {"domain": [0, 2], "nice": false}, "axis": {"values": [0, 0.5, 1, 1.5, 2], "labels": false, "title": null}},
           "y": {"field": "N", "type": "quantitative", "scale": {"domain": [0.0025, 0.0758], "nice": false, "zero": false}, "axis": {"values": [0.025, 0.05, 0.075], "format": ".3f", "title": ["Seed = 0", "N(φ)"], "titleLineHeight": 27, "titlePadding": 8}}}},
        {"data": {"name": "guides"}, "mark": {"type": "rule", "color": "#000", "strokeWidth": 2}, "encoding": {"x": {"field": "phi", "type": "quantitative"}}}
      ]
    },
    {
      "title": {"text": "Time = 70 ms", "anchor": "middle", "frame": "group", "offset": 1},
      "width": 433, "height": 104,
      "layer": [
        {"data": {"name": "t70s0"}, "mark": {"type": "line", "color": "#3b7fbf", "strokeWidth": 1.6, "clip": true},
         "encoding": {
           "x": {"field": "phi", "type": "quantitative", "scale": {"domain": [0, 2], "nice": false}, "axis": {"values": [0, 0.5, 1, 1.5, 2], "labels": false, "title": null}},
           "y": {"field": "N", "type": "quantitative", "scale": {"domain": [0.005, 0.379], "nice": false, "zero": false}, "axis": {"values": [0.1, 0.2, 0.3], "format": ".1f", "title": null}}}},
        {"data": {"name": "guides"}, "mark": {"type": "rule", "color": "#000", "strokeWidth": 2}, "encoding": {"x": {"field": "phi", "type": "quantitative"}}}
      ]
    },
    {
      "width": 433, "height": 104,
      "layer": [
        {"data": {"name": "t40s2"}, "mark": {"type": "line", "color": "#3b7fbf", "strokeWidth": 1.6, "clip": true},
         "encoding": {
           "x": {"field": "phi", "type": "quantitative", "scale": {"domain": [0, 2], "nice": false}, "axis": {"values": [0, 0.5, 1, 1.5, 2], "labels": false, "title": null}},
           "y": {"field": "N", "type": "quantitative", "scale": {"domain": [0.0025, 0.0758], "nice": false, "zero": false}, "axis": {"values": [0.025, 0.05, 0.075], "format": ".3f", "title": ["Seed = 2", "N(φ)"], "titleLineHeight": 27, "titlePadding": 8}}}},
        {"data": {"name": "guides"}, "mark": {"type": "rule", "color": "#000", "strokeWidth": 2}, "encoding": {"x": {"field": "phi", "type": "quantitative"}}}
      ]
    },
    {
      "width": 433, "height": 104,
      "layer": [
        {"data": {"name": "t70s2"}, "mark": {"type": "line", "color": "#3b7fbf", "strokeWidth": 1.6, "clip": true},
         "encoding": {
           "x": {"field": "phi", "type": "quantitative", "scale": {"domain": [0, 2], "nice": false}, "axis": {"values": [0, 0.5, 1, 1.5, 2], "labels": false, "title": null}},
           "y": {"field": "N", "type": "quantitative", "scale": {"domain": [0.005, 0.379], "nice": false, "zero": false}, "axis": {"values": [0.1, 0.2, 0.3], "format": ".1f", "title": null}}}},
        {"data": {"name": "guides"}, "mark": {"type": "rule", "color": "#000", "strokeWidth": 2}, "encoding": {"x": {"field": "phi", "type": "quantitative"}}}
      ]
    },
    {
      "width": 433, "height": 104,
      "layer": [
        {"data": {"name": "t40s4"}, "mark": {"type": "line", "color": "#3b7fbf", "strokeWidth": 1.6, "clip": true},
         "encoding": {
           "x": {"field": "phi", "type": "quantitative", "scale": {"domain": [0, 2], "nice": false}, "axis": {"values": [0, 0.5, 1, 1.5, 2], "labelExpr": "datum.value + ' π'", "title": "φ [rad]", "labelPadding": 2, "titlePadding": 3}},
           "y": {"field": "N", "type": "quantitative", "scale": {"domain": [0.0025, 0.0758], "nice": false, "zero": false}, "axis": {"values": [0.025, 0.05, 0.075], "format": ".3f", "title": ["Seed = 4", "N(φ)"], "titleLineHeight": 27, "titlePadding": 8}}}},
        {"data": {"name": "guides"}, "mark": {"type": "rule", "color": "#000", "strokeWidth": 2}, "encoding": {"x": {"field": "phi", "type": "quantitative"}}}
      ]
    },
    {
      "width": 433, "height": 104,
      "layer": [
        {"data": {"name": "t70s4"}, "mark": {"type": "line", "color": "#3b7fbf", "strokeWidth": 1.6, "clip": true},
         "encoding": {
           "x": {"field": "phi", "type": "quantitative", "scale": {"domain": [0, 2], "nice": false}, "axis": {"values": [0, 0.5, 1, 1.5, 2], "labelExpr": "datum.value + ' π'", "title": "φ [rad]", "labelPadding": 2, "titlePadding": 3}},
           "y": {"field": "N", "type": "quantitative", "scale": {"domain": [0.005, 0.379], "nice": false, "zero": false}, "axis": {"values": [0.1, 0.2, 0.3], "format": ".1f", "title": null}}}},
        {"data": {"name": "guides"}, "mark": {"type": "rule", "color": "#000", "strokeWidth": 2}, "encoding": {"x": {"field": "phi", "type": "quantitative"}}}
      ]
    }
  ]
}
